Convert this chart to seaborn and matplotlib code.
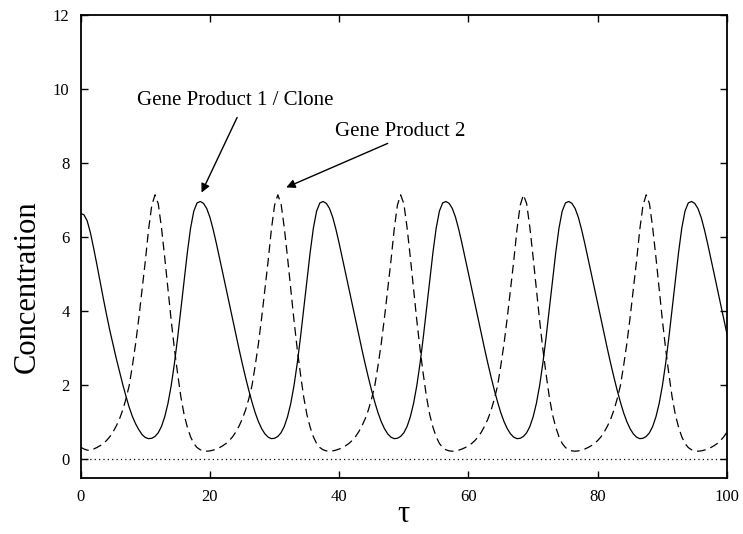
import numpy as np
import pandas as pd
import seaborn as sns
import matplotlib.pyplot as plt

# both curves every 0.5 in tau
tau = np.linspace(0, 100, 201)

gene_product_1 = [
    6.64, 6.60, 6.44, 6.12, 5.70, 5.26, 4.80, 4.34, 3.90, 3.48, 3.10, 2.72,
    2.37, 2.02, 1.70, 1.40, 1.15, 0.95, 0.79, 0.66, 0.58, 0.55,
    0.56, 0.61, 0.71, 0.88, 1.14, 1.50, 1.98, 2.58, 3.28, 4.04, 4.82, 5.58,
    6.24, 6.70, 6.92,
    # from the peak near tau = 18.5
    6.96, 6.91, 6.77, 6.53, 6.20, 5.82, 5.42, 5.01, 4.60, 4.19, 3.78, 3.37,
    2.97, 2.58, 2.21, 1.86, 1.54, 1.25, 1.01, 0.82, 0.68, 0.59, 0.55,
    0.56, 0.61, 0.71, 0.88, 1.14, 1.50, 1.98, 2.58, 3.28, 4.04, 4.82, 5.58,
    6.24, 6.70, 6.92,
    # peak near 37.5
    6.96, 6.91, 6.77, 6.53, 6.20, 5.82, 5.42, 5.01, 4.60, 4.19, 3.78, 3.37,
    2.97, 2.58, 2.21, 1.86, 1.54, 1.25, 1.01, 0.82, 0.68, 0.59, 0.55,
    0.56, 0.61, 0.71, 0.88, 1.14, 1.50, 1.98, 2.58, 3.28, 4.04, 4.82, 5.58,
    6.24, 6.70, 6.92,
    # peak near 56.5
    6.96, 6.91, 6.77, 6.53, 6.20, 5.82, 5.42, 5.01, 4.60, 4.19, 3.78, 3.37,
    2.97, 2.58, 2.21, 1.86, 1.54, 1.25, 1.01, 0.82, 0.68, 0.59, 0.55,
    0.56, 0.61, 0.71, 0.88, 1.14, 1.50, 1.98, 2.58, 3.28, 4.04, 4.82, 5.58,
    6.24, 6.70, 6.92,
    # peak near 75.5
    6.96, 6.91, 6.77, 6.53, 6.20, 5.82, 5.42, 5.01, 4.60, 4.19, 3.78, 3.37,
    2.97, 2.58, 2.21, 1.86, 1.54, 1.25, 1.01, 0.82, 0.68, 0.59, 0.55,
    0.56, 0.61, 0.71, 0.88, 1.14, 1.50, 1.98, 2.58, 3.28, 4.04, 4.82, 5.58,
    6.24, 6.70, 6.92,
    # peak near 94.5
    6.96, 6.91, 6.77, 6.53, 6.20, 5.82, 5.42, 5.01, 4.60, 4.19, 3.78, 3.37,
]

gene_product_2 = [
    0.32, 0.27, 0.24, 0.23,
    0.27, 0.31, 0.36, 0.42, 0.50, 0.60, 0.73, 0.89, 1.08, 1.32, 1.62, 1.98,
    2.52, 3.12, 3.82, 4.58, 5.35, 6.20, 6.86,
    # peak near tau = 11.5
    7.14, 6.90, 6.25, 5.45, 4.60, 3.75, 2.98, 2.30, 1.68, 1.20, 0.86, 0.60,
    0.42, 0.31, 0.25, 0.22, 0.21, 0.22, 0.24, 0.27, 0.31, 0.36, 0.42, 0.50,
    0.60, 0.73, 0.89, 1.08, 1.32, 1.62, 1.98, 2.52, 3.12, 3.82, 4.58, 5.35,
    6.20, 6.86,
    # peak near 30.5
    7.14, 6.90, 6.25, 5.45, 4.60, 3.75, 2.98, 2.30, 1.68, 1.20, 0.86, 0.60,
    0.42, 0.31, 0.25, 0.22, 0.21, 0.22, 0.24, 0.27, 0.31, 0.36, 0.42, 0.50,
    0.60, 0.73, 0.89, 1.08, 1.32, 1.62, 1.98, 2.52, 3.12, 3.82, 4.58, 5.35,
    6.20, 6.86,
    # peak near 49.5
    7.14, 6.90, 6.25, 5.45, 4.60, 3.75, 2.98, 2.30, 1.68, 1.20, 0.86, 0.60,
    0.42, 0.31, 0.25, 0.22, 0.21, 0.22, 0.24, 0.27, 0.31, 0.36, 0.42, 0.50,
    0.60, 0.73, 0.89, 1.08, 1.32, 1.62, 1.98, 2.52, 3.12, 3.82, 4.58, 5.35,
    6.20, 6.86,
    # peak near 68.5
    7.14, 6.90, 6.25, 5.45, 4.60, 3.75, 2.98, 2.30, 1.68, 1.20, 0.86, 0.60,
    0.42, 0.31, 0.25, 0.22, 0.21, 0.22, 0.24, 0.27, 0.31, 0.36, 0.42, 0.50,
    0.60, 0.73, 0.89, 1.08, 1.32, 1.62, 1.98, 2.52, 3.12, 3.82, 4.58, 5.35,
    6.20, 6.86,
    # peak near 87.5
    7.14, 6.90, 6.25, 5.45, 4.60, 3.75, 2.98, 2.30, 1.68, 1.20, 0.86, 0.60,
    0.42, 0.31, 0.25, 0.22, 0.21, 0.22, 0.24, 0.27, 0.31, 0.36, 0.42, 0.50,
    0.60, 0.73,
]

x_ticks = [0, 20, 40, 60, 80, 100]
y_ticks = [0, 2, 4, 6, 8, 10, 12]

df = pd.DataFrame({"tau": tau, "gp1": gene_product_1, "gp2": gene_product_2})

sns.set_style("ticks")
plt.rcParams["font.family"] = ["Liberation Serif", "DejaVu Serif"]
plt.rcParams["text.color"] = "black"
plt.rcParams["axes.labelcolor"] = "black"

fig = plt.figure(figsize=(7.43, 5.34), dpi=100)
ax = fig.add_axes([0.1086, 0.1058, 0.8699, 0.8661])

sns.lineplot(data=df, x="tau", y="gp1", color="black", lw=0.9,
             estimator=None, ax=ax)
sns.lineplot(data=df, x="tau", y="gp2", color="black", lw=0.9,
             linestyle=(0, (7, 4)), estimator=None, ax=ax)
ax.axhline(0, color="black", lw=0.9, ls=(0, (1, 2.5)))

ax.set_xlim(0, 100)
ax.set_ylim(-0.5, 12)
ax.set_xticks(x_ticks)
ax.set_yticks(y_ticks)
ax.tick_params(direction="in", length=5, width=1, top=True, right=True,
               labelsize=12, pad=8, colors="black")
for s in ax.spines.values():
    s.set_linewidth(1.3)
    s.set_color("black")

ax.set_xlabel("τ", fontsize=22, va="center")
ax.set_ylabel("Concentration", fontsize=22)
ax.xaxis.set_label_coords(0.5, -0.081)
ax.yaxis.set_label_coords(-0.06, 0.412)

ax.text(8.7, 9.68, "Gene Product 1 / Clone", fontsize=15, ha="left", va="center")
ax.text(39.3, 8.85, "Gene Product 2", fontsize=15, ha="left", va="center")
arrow = dict(arrowstyle="-|>", color="black", lw=1.0, mutation_scale=13,
             shrinkA=0, shrinkB=0)
ax.annotate("", xy=(18.7, 7.2), xytext=(24.2, 9.23), arrowprops=arrow)
ax.annotate("", xy=(31.8, 7.34), xytext=(47.5, 8.53), arrowprops=arrow)

fig.savefig("out.png", dpi=100)
